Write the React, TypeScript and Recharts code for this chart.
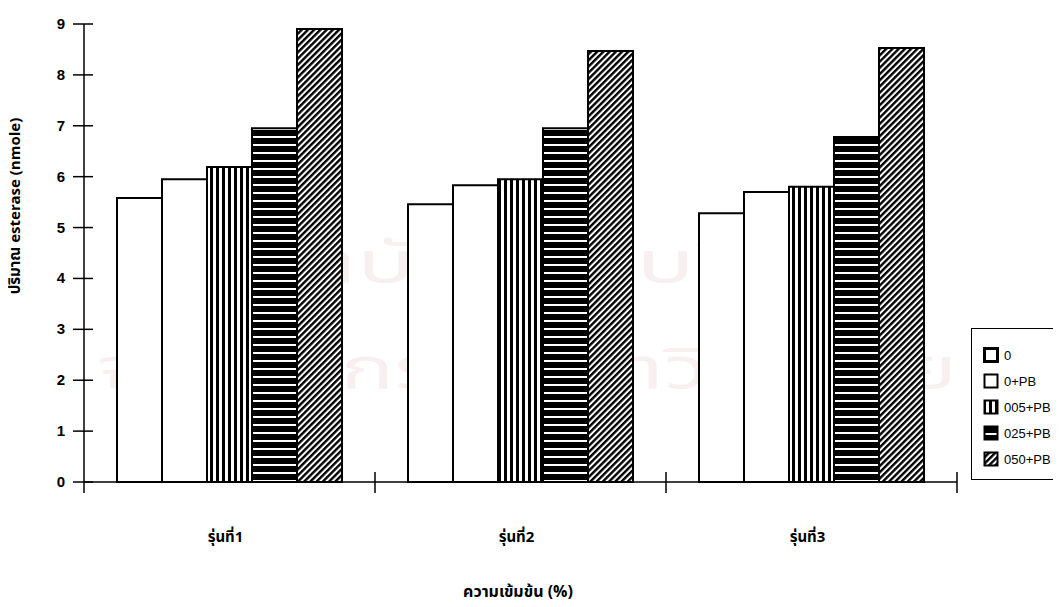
import React from 'react';
import { BarChart, Bar, XAxis, YAxis, Label } from 'recharts';

// Generations (x categories)
const categories = ['รุ่นที่1', 'รุ่นที่2', 'รุ่นที่3'];

// Treatment series names
const seriesNames = ['0', '0+PB', '005+PB', '025+PB', '050+PB'];

// Esterase amount (nmole) per treatment, one value per generation
const values0 = [5.58, 5.46, 5.28];
const values0PB = [5.95, 5.83, 5.7];
const values005PB = [6.19, 5.95, 5.8];
const values025PB = [6.95, 6.95, 6.78];
const values050PB = [8.9, 8.47, 8.53];

const yTicks = [0, 1, 2, 3, 4, 5, 6, 7, 8, 9];

// Faint background stamp lines of the source page
const stampLines = ['สถาบันวิทยบริการ', 'จุฬาลงกรณ์มหาวิทยาลัย'];

const seriesValues = [values0, values0PB, values005PB, values025PB, values050PB];
const seriesKeys = ['s0', 's1', 's2', 's3', 's4'];
const seriesFills = ['#ffffff', '#ffffff', 'url(#vstripe)', 'url(#hstripe)', 'url(#diag)'];

const data = categories.map((name, i) => {
  const row: Record<string, string | number> = { name };
  seriesKeys.forEach((k, s) => {
    row[k] = seriesValues[s][i];
  });
  return row;
});

const numFont = '"Liberation Sans", Arial, sans-serif';
const thaiFont = '"Noto Sans Thai", "Loma", "Garuda", "Norasi", "Noto Sans", sans-serif';

const Patterns = ({ prefix = '' }: { prefix?: string }) => (
  <defs>
    <pattern id={`${prefix}vstripe`} patternUnits="userSpaceOnUse" width="6" height="6">
      <rect width="6" height="6" fill="#fff" />
      <rect x="0" width="3" height="6" fill="#000" />
    </pattern>
    <pattern id={`${prefix}hstripe`} patternUnits="userSpaceOnUse" width="8" height="8">
      <rect width="8" height="8" fill="#000" />
      <rect y="0" width="8" height="2" fill="#fff" />
    </pattern>
    <pattern
      id={`${prefix}diag`}
      patternUnits="userSpaceOnUse"
      width="4.4"
      height="4.4"
      patternTransform="rotate(45)"
    >
      <rect width="4.4" height="4.4" fill="#fff" />
      <rect x="0" width="2.4" height="4.4" fill="#000" />
    </pattern>
  </defs>
);

const YTick = (props: any) => {
  const { x, y, payload } = props;
  return (
    <g>
      <line x1={x - 11} x2={x + 9} y1={y} y2={y} stroke="#000" strokeWidth={1.5} />
      {payload.value === 0 && <line x1={x} x2={x} y1={y} y2={y + 11} stroke="#000" strokeWidth={1.5} />}
      <text
        x={x - 19}
        y={y}
        dy={5}
        textAnchor="end"
        fontFamily={numFont}
        fontWeight="bold"
        fontSize={15}
        fill="#000"
      >
        {payload.value}
      </text>
    </g>
  );
};

const XTick = (props: any) => {
  const { x, y, payload } = props;
  const edge = x + (payload.offset ?? 0);
  return (
    <g>
      <line x1={edge} x2={edge} y1={y - 10} y2={y + 11} stroke="#000" strokeWidth={1.5} />
      <text
        x={x - 4}
        y={y + 60}
        textAnchor="middle"
        fontFamily={thaiFont}
        fontWeight="bold"
        fontSize={15}
        fill="#000"
      >
        {payload.value}
      </text>
    </g>
  );
};

const LegendBox = () => (
  <div
    style={{
      position: 'absolute',
      left: 971,
      top: 328,
      width: 100,
      height: 152,
      border: '1.5px solid #000',
      boxSizing: 'border-box',
      paddingTop: 13,
      paddingLeft: 11,
      background: '#fff',
    }}
  >
    {seriesNames.map((n, i) => (
      <div key={n} style={{ display: 'flex', alignItems: 'center', height: 26 }}>
        <svg width={16} height={16} style={{ marginRight: 5 }}>
          <Patterns prefix={`lg${i}`} />
          <rect
            x={1.5}
            y={1.5}
            width={13}
            height={13}
            fill={seriesFills[i].replace('url(#', `url(#lg${i}`)}
            stroke="#000"
            strokeWidth={i === 0 ? 3 : 2}
          />
        </svg>
        <span style={{ fontFamily: numFont, fontSize: 13, color: '#000' }}>{n}</span>
      </div>
    ))}
  </div>
);

const Stamp = () => (
  <svg
    width={1061}
    height={607}
    style={{ position: 'absolute', left: 0, top: 0, pointerEvents: 'none' }}
  >
    <text
      x={545}
      y={282}
      textAnchor="middle"
      fontFamily={thaiFont}
      fontSize={58}
      fill="#f8eff1"
      textLength={680}
      lengthAdjust="spacingAndGlyphs"
    >
      {stampLines[0]}
    </text>
    <text
      x={527}
      y={388}
      textAnchor="middle"
      fontFamily={thaiFont}
      fontSize={58}
      fill="#f8eff1"
      textLength={860}
      lengthAdjust="spacingAndGlyphs"
    >
      {stampLines[1]}
    </text>
  </svg>
);

export default function App() {
  return (
    <div style={{ position: 'relative', width: 1061, height: 607, margin: -8, background: '#fff', overflow: 'hidden' }}>
      <Stamp />
      <div style={{ position: 'absolute', left: 0, top: 0 }}>
        <BarChart
          width={1061}
          height={607}
          data={data}
          margin={{ top: 24, right: 104, bottom: 0, left: 0 }}
          barCategoryGap={33}
          barGap={0}
        >
          <Patterns />
          <XAxis
            dataKey="name"
            height={125}
            tickSize={0}
            tickMargin={0}
            tickLine={false}
            axisLine={{ stroke: '#000', strokeWidth: 1.5 }}
            tick={<XTick />}
            interval={0}
          >
            <Label
              content={() => (
                <text
                  x={518}
                  y={597}
                  textAnchor="middle"
                  fontFamily={thaiFont}
                  fontWeight="bold"
                  fontSize={16}
                  fill="#000"
                >
                  ความเข้มข้น (%)
                </text>
              )}
            />
          </XAxis>
          <YAxis
            width={84}
            domain={[0, 9]}
            ticks={yTicks}
            interval={0}
            tickSize={0}
            tickMargin={0}
            tickLine={false}
            axisLine={{ stroke: '#000', strokeWidth: 1.5 }}
            tick={<YTick />}
          >
            <Label
              content={() => (
                <text
                  transform="translate(20,206) rotate(-90)"
                  textAnchor="middle"
                  fontFamily={thaiFont}
                  fontWeight="bold"
                  fontSize={15}
                  fill="#000"
                >
                  ปริมาณ esterase (nmole)
                </text>
              )}
            />
          </YAxis>
          {seriesKeys.map((k, i) => (
            <Bar
              key={k}
              dataKey={k}
              name={seriesNames[i]}
              fill={seriesFills[i]}
              stroke="#000"
              strokeWidth={2}
              isAnimationActive={false}
            />
          ))}
        </BarChart>
      </div>
      <LegendBox />
    </div>
  );
}
